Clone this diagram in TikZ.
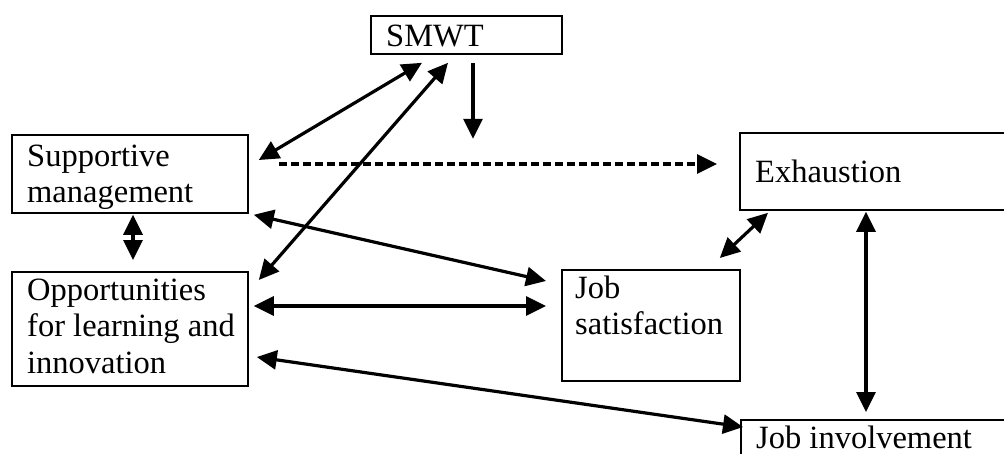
\documentclass[tikz,border=0pt]{standalone}
\usepackage{fontspec}
\setmainfont{Liberation Serif}
\usetikzlibrary{arrows.meta,calc}

% stacked left-aligned lines whose base is the first line's baseline
\newcommand{\boxlines}[1]{\begin{tabular}[t]{@{}l@{}}#1\end{tabular}}

\begin{document}
\begin{tikzpicture}[x=1pt,y=-1pt,
  box/.style={draw, line width=1.8pt, rectangle, anchor=north west, inner sep=0pt},
  txt/.style={anchor=base west, inner sep=0pt, font=\fontsize{32.5}{36.5}\selectfont},
  link/.style={line width=3.2pt, -{Triangle[length=20pt,width=19pt]}},
  both/.style={line width=3.2pt, {Triangle[length=20pt,width=19pt]}-{Triangle[length=20pt,width=19pt]}},
  dashlink/.style={line width=3.2pt, dash pattern=on 8pt off 4pt, -{Triangle[length=20pt,width=19pt]}},
]
\useasboundingbox (0,0) rectangle (1004,453);
\fill[white] (0,0) rectangle (1004,453);
\clip (0,0) rectangle (1004,453);

% boxes
\node[box, minimum width=191pt, minimum height=38pt]  (smwt) at (370,15)  {};
\node[box, minimum width=236pt, minimum height=78pt]  (sm)   at (11,134)  {};
\node[box, minimum width=236pt, minimum height=114pt] (opp)  at (11,271)  {};
\node[box, minimum width=178pt, minimum height=111pt] (js)   at (561,269) {};
\node[box, minimum width=290pt, minimum height=77pt]  (exh)  at (739,132) {};
\node[box, minimum width=290pt, minimum height=60pt]  (ji)   at (740,419) {};

% labels
\node[txt] (smwtT) at (386,46)  {SMWT};
\node[txt] (smT)   at (27,166)  {\boxlines{Supportive\\management}};
\node[txt] (oppT)  at (27,300)  {\boxlines{Opportunities\\for learning and\\innovation}};
\node[txt] (jsT)   at (575,298) {\boxlines{Job\\satisfaction}};
\node[txt] (exhT)  at (755,182) {Exhaustion};
\node[txt] (jiT)   at (756,448) {Job involvement};

% moderating effect of SMWT on the dashed path
\coordinate (mod) at ($(smwt.south west)+(103,84)$);
\draw[link] ($(smwt.south west)+(103,8)$) -- (mod);

% connectors
\draw[both] ($(sm.north east)+(10,26)$) -- ($(smwt.south west)+(52,8)$);
\draw[both] ($(opp.north east)+(10,9)$) -- ($(smwt.south west)+(78,8)$);
\draw[dashlink] ($(sm.north east)+(30,30)$) -- ($(exh.north west)+(-22,32)$);
\draw[both] ($(sm.south east)+(5,1)$) -- ($(js.north west)+(-15,12)$);
\draw[both] ($(opp.north east)+(5,35)$) -- ($(js.north west)+(-15,37)$);
\draw[both] ($(opp.north east)+(8,86)$) -- ($(ji.north west)+(3,8)$);
\draw[both] ($(js.north east)+(-21,-11)$) -- ($(exh.south west)+(29,2)$);
\draw[both] ($(exh.south west)+(127,1)$) -- ($(ji.north west)+(126,-7)$);
\draw[both] ($(sm.south west)+(122,1)$) -- ($(opp.north west)+(122,-11)$);
\end{tikzpicture}
\end{document}
